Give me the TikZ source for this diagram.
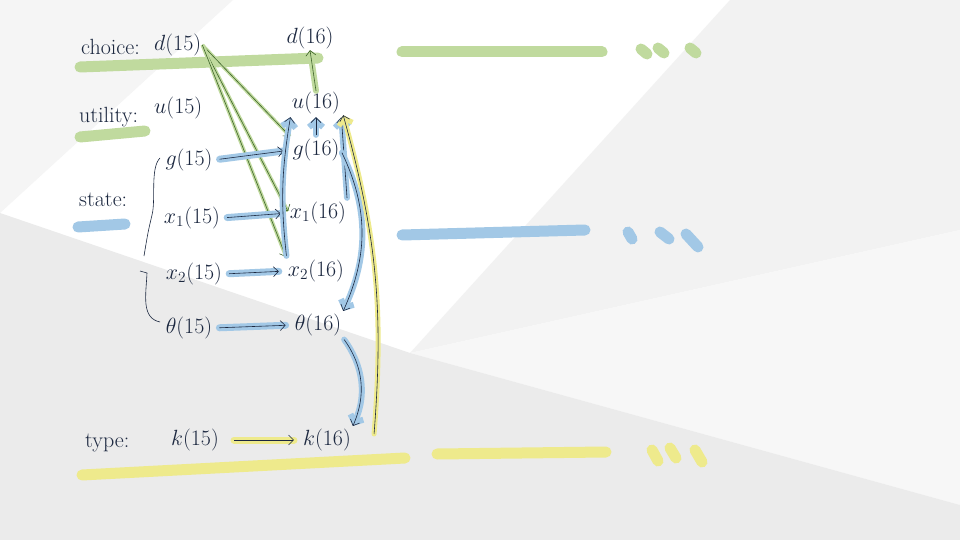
\RequirePackage{fix-cm}
\documentclass[tikz,border=0pt]{standalone}
\usetikzlibrary{arrows.meta}
\definecolor{ink}{RGB}{28,40,64}
\definecolor{greenink}{RGB}{62,100,42}
\definecolor{choicegreen}{RGB}{192,218,158}
\definecolor{stateblue}{RGB}{162,200,230}
\definecolor{typeyellow}{RGB}{238,234,140}
\pgfdeclarelayer{back}
\pgfdeclarelayer{background}
\pgfsetlayers{back,background,main}

\begin{document}
\begin{tikzpicture}[
	x=1pt, y=-1pt,
	>={Straight Barb[length=5pt,width=10pt]},
	font=\fontsize{22}{26}\selectfont,
	% Styles for the words, markers and arrows
	word/.style={text=ink, inner sep=1pt},
	marker/.style={line width=11pt, line cap=round},
	greenarrow/.style={->, semithick, draw=greenink, shorten >=2pt,
		preaction={draw=choicegreen, line width=3.5pt, -}},
	greenup/.style={->, semithick, draw=greenink,
		preaction={draw=choicegreen, line width=6pt, line cap=round, line join=round,
			-{Straight Barb[length=6pt,width=14pt]}}},
	bluearrow/.style={->, semithick, draw=ink, shorten <=6pt, shorten >=8pt,
		preaction={draw=stateblue, line width=7pt, line cap=round, -}},
	bluetip/.style={->, semithick, draw=ink, shorten <=3pt, shorten >=2pt,
		preaction={draw=stateblue, line width=6pt, line cap=round, line join=round,
			-{Straight Barb[length=6pt,width=14pt]}}},
	yellowarrow/.style={->, semithick, draw=ink, shorten <=14pt, shorten >=8pt,
		preaction={draw=typeyellow, line width=7pt, line cap=round, -}},
	yellowtip/.style={->, semithick, draw=ink,
		preaction={draw=typeyellow, line width=5pt, line cap=round, line join=round,
			-{Straight Barb[length=6pt,width=14pt]}}}
	]
	\useasboundingbox (0,0) rectangle (960,540);
	
	% ==========================================
	% 0. PAPER (low-poly background)
	% ==========================================
	\begin{pgfonlayer}{back}
		\fill[white] (0,0) rectangle (960,540);
		\fill[black!4] (0,0) -- (233,0) -- (0,213) -- cycle;
		\fill[black!5] (730,0) -- (960,0) -- (960,230) -- (410,353) -- cycle;
		\fill[black!3] (410,353) -- (960,230) -- (960,505) -- cycle;
		\fill[black!8] (0,213) -- (410,353) -- (960,505) -- (960,540) -- (0,540) -- cycle;
	\end{pgfonlayer}
	
	% ==========================================
	% 1. WORDS
	% ==========================================
	\node[word, anchor=west] (choice) at (80,47) {choice:};
	\node[word, anchor=west] (d15) at (153,45) {$d(15)$};
	\node[word] (d16) at (310,38) {$d(16)$};
	
	\node[word, anchor=west] (utility) at (78,117) {utility:};
	\node[word, anchor=west] (u15) at (153,108) {$u(15)$};
	\node[word] (u16) at (316,103) {$u(16)$};
	
	\node[word, anchor=west] (state) at (78,200) {state:};
	\node[word] (g15) at (189,160) {$g(15)$};
	\node[word] (g16) at (316,150) {$g(16)$};
	\node[word] (xa15) at (192,218) {$x_1(15)$};
	\node[word] (xa16) at (318,213) {$x_1(16)$};
	\node[word] (xb15) at (194,274) {$x_2(15)$};
	\node[word] (xb16) at (316,271) {$x_2(16)$};
	\node[word] (th15) at (189,328) {$\theta(15)$};
	\node[word] (th16) at (318,325) {$\theta(16)$};
	
	\node[word, anchor=west] (type) at (84,443) {type:};
	\node[word] (k15) at (195,440) {$k(15)$};
	\node[word] (k16) at (327,440) {$k(16)$};
	
	% Braces grouping the state variables
	\draw[ink, semithick] (160,158) .. controls (150,168) and (156,200) .. (152,215)
		.. controls (148,232) .. (144,256);
	\draw[ink, semithick] (140,271) -- (147,273) .. controls (146,295) and (141,318) .. (160,322);
	
	\begin{pgfonlayer}{background}
		% ==========================================
		% 2. MARKERS (one colour per row)
		% ==========================================
		\draw[marker, choicegreen] (80,67) -- (318,58);
		\draw[marker, choicegreen] (80,137) -- (145,131);
		\draw[marker, choicegreen] (402,52) -- (602,52);
		\foreach \a/\b in {641/49, 658/48, 690/48}
			\draw[marker, choicegreen] (\a,\b) -- ++(6,5);
		
		\draw[marker, stateblue] (78,227) -- (125,224);
		\draw[marker, stateblue] (402,235) -- (585,230);
		\foreach \a/\b/\c/\d in {628/232/4/7, 660/232/9/7, 686/234/12/13}
			\draw[marker, stateblue] (\a,\b) -- ++(\c,\d);
		
		\draw[marker, typeyellow] (82,475) -- (405,458);
		\draw[marker, typeyellow] (437,454) -- (606,452);
		\foreach \a/\b/\c/\d in {652/450/6/11, 670/448/6/10, 695/450/7/12}
			\draw[marker, typeyellow] (\a,\b) -- ++(\c,\d);
		
		% ==========================================
		% 3. DEPENDENCIES
		% ==========================================
		% choice
		\draw[greenarrow] (d15.east) -- (g16.north west);
		\draw[greenarrow] (d15.east) -- (xa16.west);
		\draw[greenarrow] (d15.east) -- (xb16.north west);
		\draw[greenup] (u16.north) -- (d16.south);
		
		% state, one period ahead
		\draw[bluearrow] (g15.east) -- (g16.west);
		\draw[bluearrow] (xa15.east) -- (xa16.west);
		\draw[bluearrow] (xb15.east) -- (xb16.west);
		\draw[bluearrow] (th15.east) -- (th16.west);
		
		% state feeding utility and the type
		\draw[bluetip] (g16.north) -- (u16.south);
		\draw[bluetip] (xb16.north west) to[bend left=8] (u16.south west);
		\draw[bluetip] (xa16.north east) -- (u16.south east);
		\draw[bluetip] (g16.east) to[bend left=25] (th16.north east);
		\draw[bluetip] (th16.south east) to[bend left=30] (k16.north east);
		
		% type
		\draw[yellowarrow] (k15.east) -- (k16.west);
		\draw[yellowtip] ([xshift=22pt,yshift=6pt]k16.east) to[bend right=10] ([xshift=2pt]u16.south east);
	\end{pgfonlayer}
\end{tikzpicture}
\end{document}
